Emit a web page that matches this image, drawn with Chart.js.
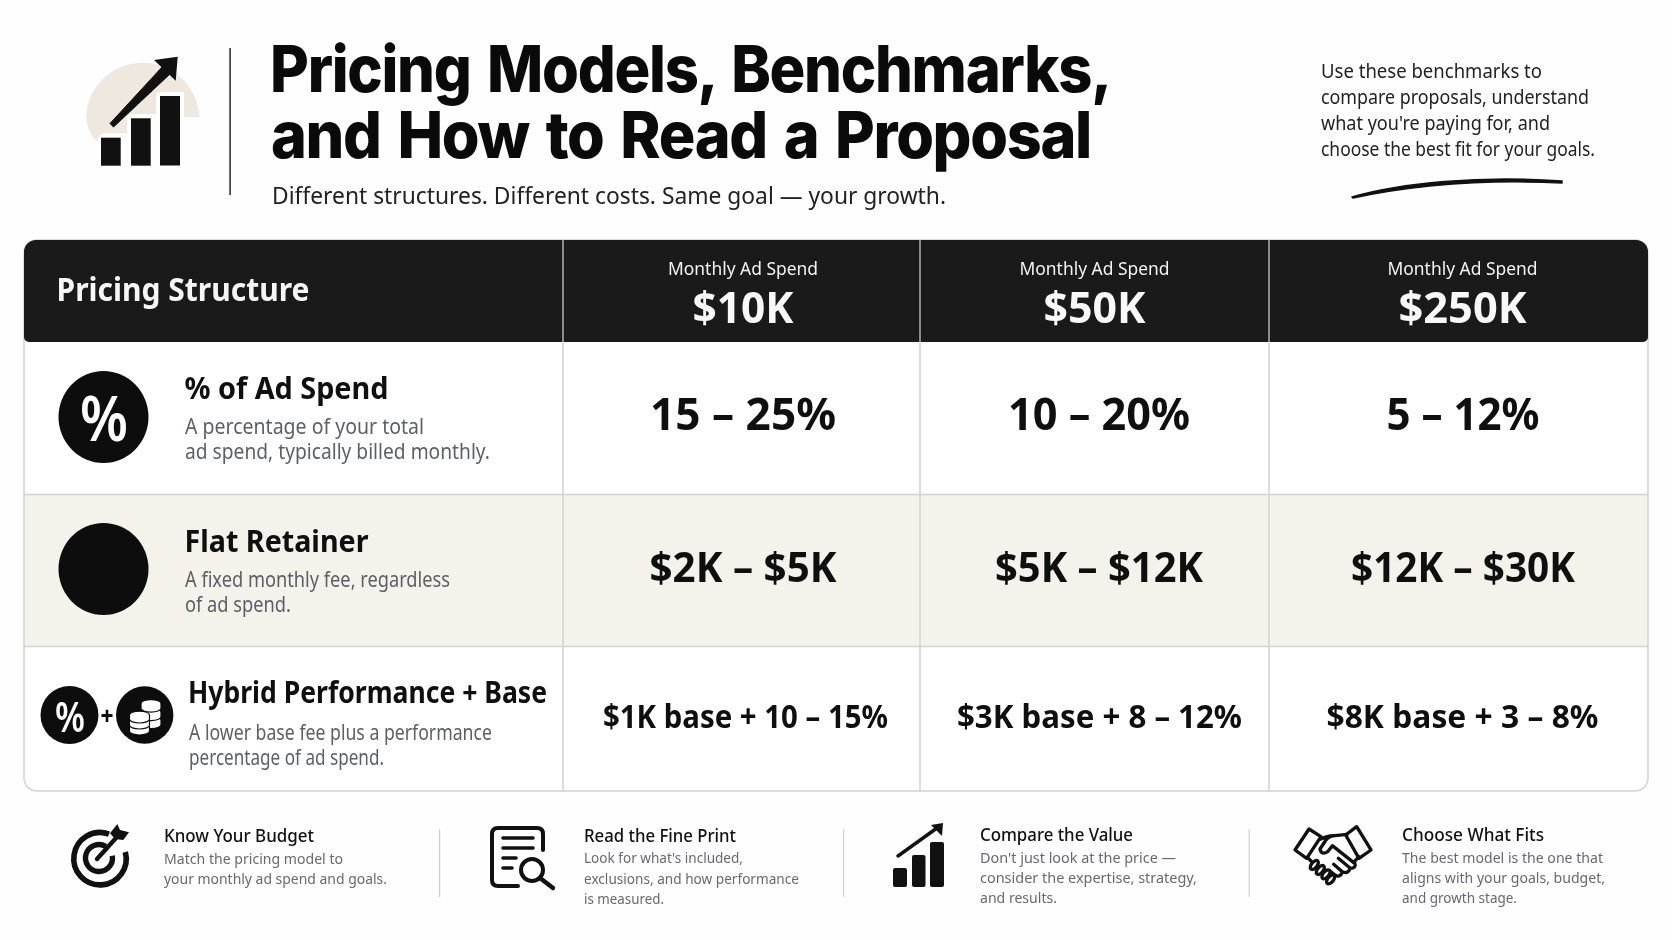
<!DOCTYPE html>
<html><head><meta charset="utf-8">
<style>
html,body{margin:0;padding:0;background:#fefefe;overflow:hidden}
#wrap{position:relative;width:1672px;height:940px}
canvas{position:absolute;left:0;top:0}
svg{position:absolute;left:0;top:0}
</style>
<script src="https://cdn.jsdelivr.net/npm/chart.js@4"></script>
</head><body><div id="wrap"><canvas id="c" width="1672" height="940"></canvas>
<svg id="s" width="1672" height="940" viewBox="0 0 1672 940" xmlns="http://www.w3.org/2000/svg"></svg></div>
<script>
// ---------- table content ----------
const columnHeader = 'Pricing Structure';
const spendCaption = 'Monthly Ad Spend';
const spendLevels = ['$10K', '$50K', '$250K'];
const structures = ['% of Ad Spend', 'Flat Retainer', 'Hybrid Performance + Base'];
const percentOfSpend = ['15 – 25%', '10 – 20%', '5 – 12%'];
const flatRetainer = ['$2K – $5K', '$5K – $12K', '$12K – $30K'];
const hybridBase = ['$1K base + 10 – 15%', '$3K base + 8 – 12%', '$8K base + 3 – 8%'];
const structureNotes = [
  ['A percentage of your total', 'ad spend, typically billed monthly.'],
  ['A fixed monthly fee, regardless', 'of ad spend.'],
  ['A lower base fee plus a performance', 'percentage of ad spend.']
];
const titleLines = ['Pricing Models, Benchmarks,', 'and How to Read a Proposal'];
const subtitle = 'Different structures. Different costs. Same goal — your growth.';
const sideNote = ['Use these benchmarks to', 'compare proposals, understand', "what you're paying for, and", 'choose the best fit for your goals.'];
const tipTitles = ['Know Your Budget', 'Read the Fine Print', 'Compare the Value', 'Choose What Fits'];
const tipTexts = [
  ['Match the pricing model to', 'your monthly ad spend and goals.'],
  ["Look for what's included,", 'exclusions, and how performance', 'is measured.'],
  ["Don't just look at the price —", 'consider the expertise, strategy,', 'and results.'],
  ['The best model is the one that', 'aligns with your goals, budget,', 'and growth stage.']
];

// ---------- layout (not data) ----------
const SANS = '"Noto Sans", sans-serif';
const columnWeights = [539, 357, 349, 379];
const rowWeights = [102, 152.5, 152, 144.5];
const valueFit = {
  rows: [
    {size: 45, weight: 700, base: 430, w: [186, 182, 153]},
    {size: 41, weight: 700, base: 582, w: [187, 208, 224]},
    {size: 33, weight: 700, base: 728, w: [285, 285, 272]}
  ],
  dx: [1.5, 4.5, 4.5],
  dxLast: [4, 5, 4]
};

// ---------- band scale: a category scale whose bands have their own widths ----------
class BandScale extends Chart.CategoryScale {
  static id = 'band';
  static defaults = Chart.CategoryScale.defaults;
  weights() { return this.options.weights; }
  edge(i) {
    const w = this.weights(), t = w.reduce((a, b) => a + b, 0);
    const f = w.slice(0, i).reduce((a, b) => a + b, 0) / t;
    return this.isHorizontal() ? this.left + f * this.width : this.top + f * this.height;
  }
  getPixelForValue(v) {
    const i = typeof v === 'number' ? v : this.parse(v);
    return (this.edge(i) + this.edge(i + 1)) / 2;
  }
}
Chart.register(BandScale);

function fit(ctx, text, x, y, w, font, color, align) {
  ctx.save();
  ctx.font = font; ctx.fillStyle = color; ctx.textBaseline = 'alphabetic'; ctx.textAlign = 'left';
  const s = w / ctx.measureText(text).width;
  ctx.translate(align === 'center' ? x - w / 2 : x, y);
  ctx.scale(s, 1);
  ctx.fillText(text, 0, 0);
  ctx.restore();
}

const xLabels = [columnHeader, ...spendLevels];
const yLabels = [spendCaption, ...structures];
const cells = [];
[percentOfSpend, flatRetainer, hybridBase].forEach((row, r) => row.forEach((t, c) =>
  cells.push({x: spendLevels[c], y: structures[r], text: t, r, c})));

const tablePlugin = {
  id: 'tablePlugin',
  beforeDatasetsDraw(chart) {
    const {ctx, scales: {x, y}} = chart;
    const L = x.edge(0), R = x.edge(4), T = y.edge(0), H = y.edge(1), B = y.edge(4);
    ctx.save();
    ctx.fillStyle = '#ffffff';
    ctx.beginPath(); ctx.roundRect(L, T, R - L, B - T, 13); ctx.fill();
    ctx.fillStyle = '#f5f2ec';
    ctx.fillRect(L, y.edge(2), R - L, y.edge(3) - y.edge(2));
    ctx.strokeStyle = '#d2d2d0'; ctx.lineWidth = 1.5;
    [2, 3].forEach(i => { ctx.beginPath(); ctx.moveTo(L, y.edge(i)); ctx.lineTo(R, y.edge(i)); ctx.stroke(); });
    [1, 2, 3].forEach(i => { ctx.beginPath(); ctx.moveTo(x.edge(i), H); ctx.lineTo(x.edge(i), B); ctx.stroke(); });
    ctx.beginPath(); ctx.roundRect(L, T, R - L, B - T, 13); ctx.stroke();
    ctx.fillStyle = '#1a1a1a';
    ctx.beginPath(); ctx.roundRect(L, T, R - L, H - T, [12, 12, 5, 5]); ctx.fill();
    ctx.strokeStyle = '#d8d8d8'; ctx.lineWidth = 1.2;
    [1, 2, 3].forEach(i => { ctx.beginPath(); ctx.moveTo(x.edge(i), T); ctx.lineTo(x.edge(i), H); ctx.stroke(); });
    ctx.restore();
  },
  afterDatasetsDraw(chart) {
    const {ctx} = chart;
    const meta = chart.getDatasetMeta(0);
    cells.forEach((cell, i) => {
      const pt = meta.data[i], spec = valueFit.rows[cell.r];
      // horizontal position comes from the scale; the text sits a few px off the band centre as in the picture
      const cx = pt.x + (cell.r === 2 ? valueFit.dxLast[cell.c] : valueFit.dx[cell.c]);
      fit(ctx, cell.text, cx, spec.base, spec.w[cell.c], `${spec.weight} ${spec.size}px ${SANS}`, '#0f0f0f', 'center');
    });
    fit(ctx, columnHeader, 56.5, 301, 253, `700 32px ${SANS}`, '#f6f6f6');
    spendLevels.forEach((s, i) => {
      const cx = [743, 1094.5, 1462.5][i];
      fit(ctx, spendCaption, cx, 275, 150, `400 18px ${SANS}`, '#f2f2f2', 'center');
      fit(ctx, s, cx, 323, [101, 102, 128][i], `700 43px ${SANS}`, '#f8f8f8', 'center');
    });
    const titleSpec = [[184.5, 399, 204, 30], [184.5, 552, 184, 30], [188, 703, 359, 30]];
    const noteSpec = [[[185, 434, 239], [185, 459, 305]], [[185, 587, 265], [185, 612, 106]], [[189, 740, 303], [189, 765, 195]]];
    structures.forEach((s, i) => {
      const t = titleSpec[i];
      fit(ctx, s, t[0], t[1], t[2], `700 ${t[3]}px ${SANS}`, '#0f0f0f');
      structureNotes[i].forEach((n, j) => {
        const q = noteSpec[i][j];
        fit(ctx, n, q[0], q[1], q[2], `400 21px ${SANS}`, '#5c6066');
      });
    });
  }
};

new Chart(document.getElementById('c'), {
  type: 'line',
  data: {
    labels: xLabels,
    datasets: [{label: 'Pricing benchmarks', data: cells, showLine: false, pointRadius: 0, pointHoverRadius: 0}]
  },
  options: {
    responsive: false, animation: false, devicePixelRatio: 1,
    layout: {padding: {left: 24, right: 24, top: 240, bottom: 149}},
    plugins: {legend: {display: false}, tooltip: {enabled: false}},
    scales: {
      x: {type: 'band', labels: xLabels, weights: columnWeights, display: false},
      y: {type: 'band', labels: yLabels, weights: rowWeights, display: false}
    }
  },
  plugins: [tablePlugin]
});

// ---------- page furniture as SVG ----------
const NS = 'http://www.w3.org/2000/svg';
const svg = document.getElementById('s');
function el(tag, attrs, text, parent) {
  const e = document.createElementNS(NS, tag);
  Object.entries(attrs).forEach(([k, v]) => e.setAttribute(k, v));
  if (text !== undefined) e.textContent = text;
  (parent || svg).appendChild(e); return e;
}
function txt(t, x, y, w, size, weight, color, family, extra) {
  el('text', {x, y, textLength: w, lengthAdjust: 'spacingAndGlyphs', 'font-size': size, 'font-weight': weight, fill: color, 'font-family': family || SANS, ...(extra || {})}, t);
}
const ink = '#111111';
// title block
el('path', {d: 'M199.3 117 A56.7 56.7 0 0 0 86 117 Q87 132 97 142 Q98 134 105 133 L127 133 L127 118 Q127 114 135 114 L156 114 L156 96 Q156 92 160 92 L184 92 L184 117 Z', fill: '#efe8df'});
[[101, 137.7, 19.7, 28], [131, 118.3, 19.7, 47.4], [160, 96, 20, 69.5]].forEach(b => el('rect', {x: b[0], y: b[1], width: b[2], height: b[3], fill: ink}));
el('path', {d: 'M110 123.5 L113.5 127 L170 74 L163 66 Z', fill: ink, stroke: ink, 'stroke-width': 1, 'stroke-linejoin': 'round'});
el('path', {d: 'M154 60 L177.7 56.7 L175.7 80.7 Z', fill: ink});
el('rect', {x: 229.3, y: 48, width: 1.6, height: 147, fill: '#333'});
const titleStyle = {'letter-spacing': '-1.4px', 'word-spacing': '5px'};
txt(titleLines[0], 270, 92, 841, 65, 800, '#0a0a0a', 'Inter, sans-serif', titleStyle);
txt(titleLines[1], 271, 158, 820, 65, 800, '#0a0a0a', 'Inter, sans-serif', titleStyle);
txt(subtitle, 272, 204, 674, 24, 400, '#222');
[[78, 221], [104, 268], [130, 229], [156, 274]].forEach((p, i) => txt(sideNote[i], 1321, p[0], p[1], 20, 400, '#222'));
el('path', {d: 'M1352 197 C1400 183 1480 175 1562 181 L1562 183 C1480 179 1410 186 1353 198 Z', fill: ink, stroke: ink, 'stroke-width': 1.5, 'stroke-linejoin': 'round'});

// row icons
el('ellipse', {cx: 103.5, cy: 417, rx: 45, ry: 46, fill: '#0d0d0d'});
txt('%', 80, 441, 48, 64, 600, '#fff');
el('ellipse', {cx: 103.5, cy: 569, rx: 45, ry: 46, fill: '#0d0d0d'});
el('circle', {cx: 69.5, cy: 715, r: 29, fill: '#0d0d0d'});
txt('%', 55, 731.5, 30, 41, 600, '#fff');
txt('+', 100.5, 725, 13, 25, 800, '#111');
el('circle', {cx: 144.7, cy: 715, r: 28.7, fill: '#0d0d0d'});
function coin(cx, cy, rx, ry, h) {
  el('path', {d: `M${cx - rx} ${cy} A${rx} ${ry} 0 0 1 ${cx + rx} ${cy} L${cx + rx} ${cy + h} A${rx} ${ry} 0 0 1 ${cx - rx} ${cy + h} Z`, fill: '#fff', stroke: '#0d0d0d', 'stroke-width': 1.2});
}
[720, 712, 703.5].forEach(y => coin(151, y, 10, 3.8, 4.8));
[727, 721, 715].forEach(y => coin(139.5, y, 10, 3.8, 4.2));

// tips
const tipX = [164, 584, 980, 1402];
const tipBase = [[842, 864, 884], [842, 863, 884, 904], [841, 863, 883, 903], [841, 863, 883, 903]];
const tipTitleW = [150, 152, 153, 142];
const tipTextW = [[179, 223], [159, 215, 80], [196, 217, 77], [201, 203, 115]];
tipTitles.forEach((t, i) => {
  txt(t, tipX[i], tipBase[i][0], tipTitleW[i], 18, 500, '#111');
  tipTexts[i].forEach((l, j) => txt(l, tipX[i], tipBase[i][j + 1], tipTextW[i][j], 15, 400, '#66696e'));
});
[439, 843, 1248.6].forEach(x => el('rect', {x, y: 829, width: 1.2, height: 68, fill: '#cfcfcf'}));

const S = {stroke: ink, fill: 'none', 'stroke-linecap': 'round', 'stroke-linejoin': 'round'};
// target
el('path', {stroke: ink, fill: 'none', 'stroke-width': 5.6, d: 'M109 834.1 A26.2 26.2 0 1 0 125.3 851.9'});
el('path', {stroke: ink, fill: 'none', 'stroke-width': 5.4, d: 'M105.75 846.3 A13.5 13.5 0 1 0 112.3 855.7'});
el('path', {...S, 'stroke-width': 4.4, d: 'M97 859 L116 838'});
el('path', {d: 'M110 833.3 L117.3 824 L120 830 L129 832.3 L123.3 840 L115 839 Z', fill: ink});
// document + magnifier
el('path', {...S, 'stroke-width': 4, d: 'M518 886 L498 886 Q492 886 492 880 L492 834 Q492 828 498 828 L537 828 Q543 828 543 834 L543 850'});
el('path', {...S, 'stroke-width': 3.6, d: 'M503 838 L533 838 M503 848 L533 848 M503 858 L516 858 M503 868 L512 868'});
el('circle', {...S, 'stroke-width': 4, cx: 532, cy: 870, r: 11});
el('path', {...S, 'stroke-width': 4.5, d: 'M540 878 L553 888'});
// rising bars
[[893, 868, 14, 19], [912, 855, 13.5, 32], [930, 842, 14, 45]].forEach(b => el('rect', {x: b[0], y: b[1], width: b[2], height: b[3], rx: 2, fill: ink}));
el('path', {...S, 'stroke-width': 3.4, d: 'M898 856 L937 828'});
el('path', {d: 'M931 825 L943 823 L942 836 Z', fill: ink});
// handshake
const hs = el('g', {transform: 'translate(1285 815) scale(0.3333)', stroke: ink, fill: 'none', 'stroke-width': 10, 'stroke-linejoin': 'round', 'stroke-linecap': 'round'});
el('path', {d: 'M30 105 L72 42 L108 65 L65 130 Z M215 35 L258 105 L222 130 L182 60 Z'}, undefined, hs);
el('path', {d: 'M108 72 Q130 60 150 62 L186 58 M150 62 Q135 62 125 72 L105 102 Q110 122 128 110 L142 92 L210 146 Q214 160 196 160 L160 130 M196 160 Q190 178 172 170 L146 148 M172 170 Q166 190 150 180 L135 168 M222 125 L208 140 M68 128 L78 138'}, undefined, hs);
[[88, 150], [106, 165], [123, 178], [137, 193]].forEach(c => el('ellipse', {cx: c[0], cy: c[1], rx: 16, ry: 8.5, transform: `rotate(-50 ${c[0]} ${c[1]})`, fill: '#fff'}, undefined, hs));
</script></body></html>
